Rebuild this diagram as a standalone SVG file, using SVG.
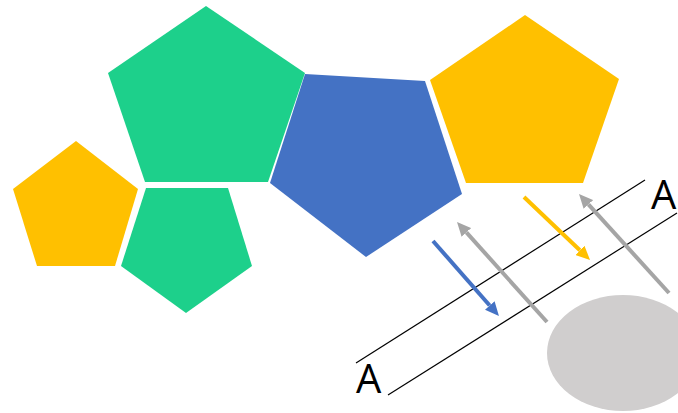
<svg xmlns="http://www.w3.org/2000/svg" width="678" height="413" viewBox="0 0 678 413">
  <style>
    .green { fill: #1DD08B; }
    .blue { fill: #4472C4; }
    .yellow { fill: #FFC000; }
    .plane { stroke: #000000; stroke-width: 1.2; fill: none; }
    .arrow { stroke-width: 4; fill: none; }
    .lbl { font-family: "Open Sans", "Liberation Sans", sans-serif; font-size: 40px; fill: #000000; }
  </style>
  <defs>
    <marker id="ahBlue" viewBox="0 0 14 13" refX="0" refY="6.5" markerWidth="14" markerHeight="13" markerUnits="userSpaceOnUse" orient="auto">
      <path d="M0,0 L14,6.5 L0,13 z" fill="#4472C4"/>
    </marker>
    <marker id="ahGray" viewBox="0 0 14 13" refX="0" refY="6.5" markerWidth="14" markerHeight="13" markerUnits="userSpaceOnUse" orient="auto">
      <path d="M0,0 L14,6.5 L0,13 z" fill="#A5A5A5"/>
    </marker>
    <marker id="ahYellow" viewBox="0 0 14 13" refX="0" refY="6.5" markerWidth="14" markerHeight="13" markerUnits="userSpaceOnUse" orient="auto">
      <path d="M0,0 L14,6.5 L0,13 z" fill="#FFC000"/>
    </marker>
  </defs>

  <g id="pentagon-green-large"><polygon class="green" points="206,6 305,73 268,182 145,182 108,73"/></g>
  <g id="pentagon-yellow-left"><polygon class="yellow" points="76,141 138,189 115,266 37,266 13,189"/></g>
  <g id="pentagon-green-small"><polygon class="green" points="146,188 228,188 252,266 186,313 121,266"/></g>
  <g id="pentagon-blue"><polygon class="blue" points="305,74 425,81 462,194 366,257 270,183"/></g>
  <g id="pentagon-yellow-right"><polygon class="yellow" points="525,15 619,79 583,183 466,183 430,80"/></g>

  <g id="ellipse"><ellipse cx="623" cy="353" rx="76" ry="58" fill="#D0CECE"/></g>

  <g id="plane">
    <line class="plane" x1="356" y1="363" x2="645" y2="180"/>
    <line class="plane" x1="388" y1="395" x2="677" y2="213"/>
  </g>

  <g id="connectors">
    <line class="arrow" stroke="#4472C4" x1="433" y1="241" x2="489.7" y2="305.5" marker-end="url(#ahBlue)"/>
    <line class="arrow" stroke="#A5A5A5" x1="547" y1="322" x2="466.4" y2="232.4" marker-end="url(#ahGray)"/>
    <line class="arrow" stroke="#FFC000" x1="524" y1="197" x2="579.9" y2="250.3" marker-end="url(#ahYellow)"/>
    <line class="arrow" stroke="#A5A5A5" x1="669" y1="293" x2="588.4" y2="204.4" marker-end="url(#ahGray)"/>
  </g>

  <g id="labels">
    <text class="lbl" x="356" y="393">A</text>
    <text class="lbl" x="651" y="209">A</text>
  </g>
</svg>
